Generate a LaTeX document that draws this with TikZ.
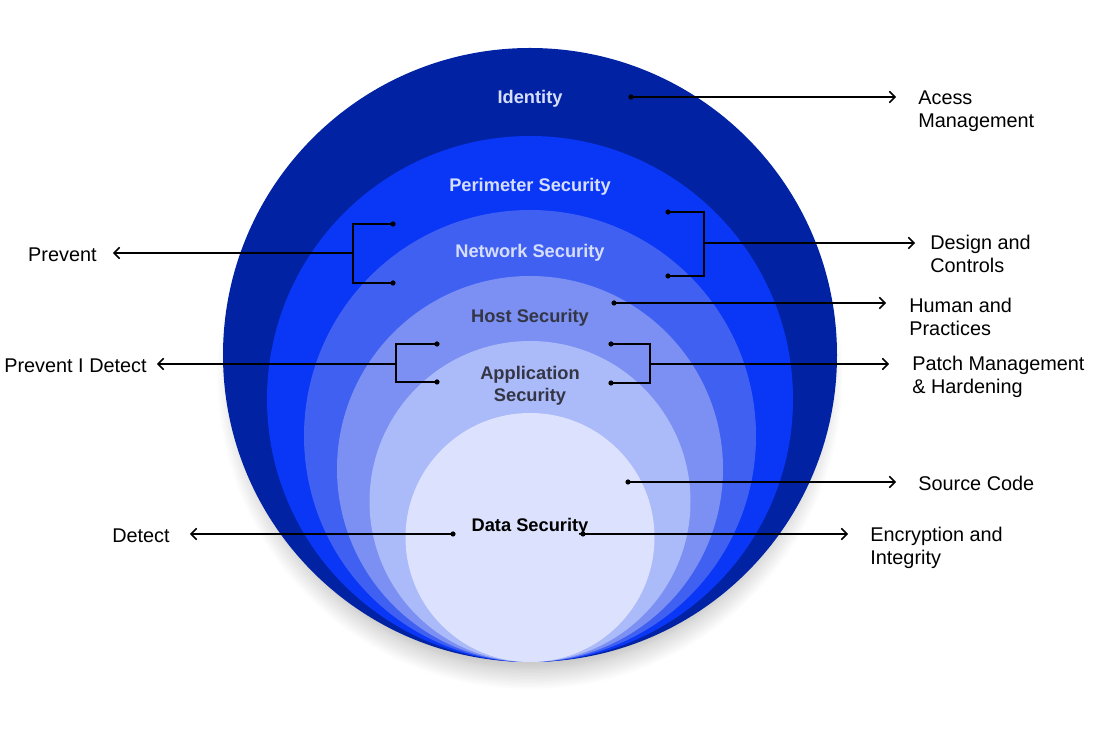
\documentclass[tikz,border=0pt]{standalone}
\usepackage{fontspec}
\setmainfont{Liberation Sans}
\usetikzlibrary{arrows.meta,shadows.blur}

\definecolor{identityblue}{RGB}{0,34,163}
\definecolor{perimeterblue}{RGB}{10,54,246}
\definecolor{networkblue}{RGB}{64,96,242}
\definecolor{hostblue}{RGB}{123,144,242}
\definecolor{appblue}{RGB}{171,186,249}
\definecolor{datablue}{RGB}{220,226,253}
\definecolor{paletext}{RGB}{214,222,255}
\definecolor{darktext}{RGB}{52,54,70}

\tikzset{
    ringlabel/.style={font=\fontsize{10.4}{12.5}\selectfont\bfseries, align=center, inner sep=0pt},
    sidelabel/.style={font=\fontsize{11.3}{13}\selectfont, align=left, inner sep=0pt},
    bracket/.style={line width=0.85pt, black},
    link/.style={bracket, -{Straight Barb[length=3.2pt,width=6.5pt]}}
}

\begin{document}
\begin{tikzpicture}[x=0.02cm, y=-0.02cm]
    \useasboundingbox (0, 0) rectangle (1096, 732);
    \fill[identityblue, blur shadow={shadow xshift=0pt, shadow yshift=-13pt,
        shadow scale=0.95, shadow blur radius=13pt, shadow blur steps=16,
        shadow opacity=32}] (530, 355) circle (307);
    \fill[perimeterblue] (530, 399) circle (263);
    \fill[networkblue] (530, 436) circle (226);
    \fill[hostblue] (530, 469) circle (193);
    \fill[appblue] (530, 501.5) circle (160.5);
    \fill[datablue] (530, 537.5) circle (124.5);

    \node[ringlabel, text=paletext] (identity) at (530, 98.5) {Identity};
    \node[ringlabel, text=paletext] (perimeter) at (530, 186.5) {Perimeter Security};
    \node[ringlabel, text=paletext] (network) at (530, 252.5) {Network Security};
    \node[ringlabel, text=darktext] (host) at (530, 317.5) {Host Security};
    \node[ringlabel, text=darktext] (application) at (530, 385.5) {Application\\Security};
    \node[ringlabel] (data) at (530, 526.5) {Data Security};

    \coordinate (idDot) at (631, 97);
    \coordinate (idTip) at (896, 97);
    \coordinate (prevA) at (393, 224);
    \coordinate (prevB) at (393, 283);
    \coordinate (prevJoin) at (353, 253);
    \coordinate (prevTip) at (113, 253);
    \coordinate (designA) at (668, 212);
    \coordinate (designB) at (668, 276);
    \coordinate (designJoin) at (704, 243);
    \coordinate (designTip) at (915, 243);
    \coordinate (humanDot) at (614, 303);
    \coordinate (humanTip) at (886, 303);
    \coordinate (pdA) at (437, 344);
    \coordinate (pdB) at (437, 382);
    \coordinate (pdJoin) at (396, 364);
    \coordinate (pdTip) at (157, 364);
    \coordinate (patchA) at (611, 344);
    \coordinate (patchB) at (611, 383);
    \coordinate (patchJoin) at (650, 364);
    \coordinate (patchTip) at (889, 364);
    \coordinate (sourceDot) at (628, 482);
    \coordinate (sourceTip) at (896, 482);
    \coordinate (detectDot) at (453, 534);
    \coordinate (detectTip) at (190, 534);
    \coordinate (encDot) at (583, 534);
    \coordinate (encTip) at (848, 534);

    \node[sidelabel, anchor=west] (access) at (918, 111) {Acess\\Management};
    \node[sidelabel, anchor=east] (prevent) at (97, 255) {Prevent};
    \node[sidelabel, anchor=west] (design) at (930, 253.5) {Design and\\Controls};
    \node[sidelabel, anchor=west] (human) at (909, 317) {Human and\\Practices};
    \node[sidelabel, anchor=east] (prevdetect) at (147, 365.5) {Prevent I Detect};
    \node[sidelabel, anchor=west] (patch) at (912, 377) {Patch Management\\\& Hardening};
    \node[sidelabel, anchor=west] (source) at (918, 483.5) {Source Code};
    \node[sidelabel, anchor=east] (detect) at (170, 535.5) {Detect};
    \node[sidelabel, anchor=west] (encryption) at (870, 548) {Encryption and\\Integrity};

    \draw[bracket] (prevA) -| (prevJoin) |- (prevB);
    \draw[bracket] (designA) -| (designJoin) |- (designB);
    \draw[bracket] (pdA) -| (pdJoin) |- (pdB);
    \draw[bracket] (patchA) -| (patchJoin) |- (patchB);

    \draw[link] (idDot) -- (idTip);
    \draw[link] (prevJoin) -- (prevTip);
    \draw[link] (designJoin) -- (designTip);
    \draw[link] (humanDot) -- (humanTip);
    \draw[link] (pdJoin) -- (pdTip);
    \draw[link] (patchJoin) -- (patchTip);
    \draw[link] (sourceDot) -- (sourceTip);
    \draw[link] (detectDot) -- (detectTip);
    \draw[link] (encDot) -- (encTip);

    \foreach \d in {idDot, prevA, prevB, designA, designB, humanDot,
        pdA, pdB, patchA, patchB, sourceDot, detectDot, encDot}
        \fill (\d) circle (2.6);
\end{tikzpicture}
\end{document}
